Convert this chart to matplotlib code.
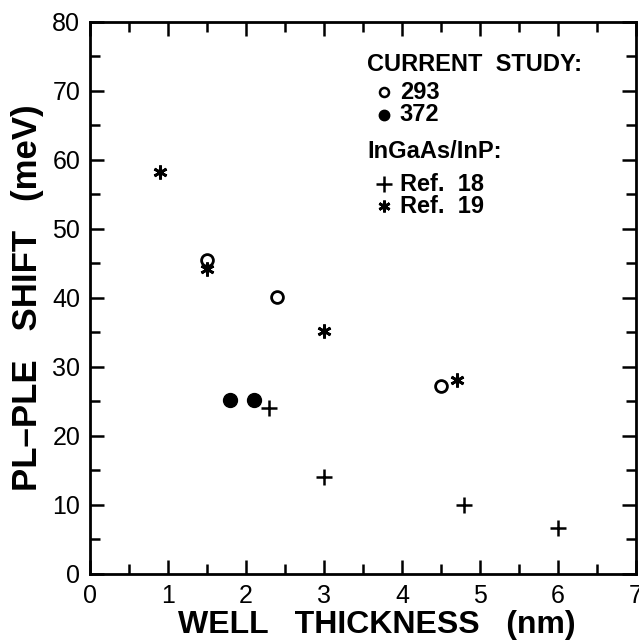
import matplotlib
matplotlib.use('Agg')
import matplotlib.pyplot as plt
from matplotlib.ticker import MultipleLocator

# current study, 293 (open circles)
x_293 = [1.5, 2.4, 4.5]
y_293 = [45.5, 40.2, 27.3]
# current study, 372 (filled circles)
x_372 = [1.8, 2.1]
y_372 = [25.2, 25.2]
# Ref. 18 (plus)
x_r18 = [2.3, 3.0, 4.8, 6.0]
y_r18 = [24.0, 14.0, 10.0, 6.7]
# Ref. 19 (asterisk)
x_r19 = [0.9, 1.5, 3.0, 4.7]
y_r19 = [58.3, 44.2, 35.2, 28.1]

plt.rcParams['font.family'] = ['Liberation Sans', 'DejaVu Sans']

fig = plt.figure(figsize=(6.39, 6.42), dpi=100)
ax = fig.add_axes([0.1408, 0.106, 0.8545, 0.86])

star = (6, 2, 0)
ax.plot(x_293, y_293, 'o', mfc='white', mec='black', mew=2, ms=8.5, ls='none')
ax.plot(x_372, y_372, 'o', mfc='black', mec='black', ms=10, ls='none')
ax.plot(x_r18, y_r18, '+', color='black', mew=1.8, ms=12, ls='none')
ax.plot(x_r19, y_r19, marker=star, color='black', mew=2.0, ms=10, ls='none')

ax.set_xlim(0, 7)
ax.set_ylim(0, 80)
ax.xaxis.set_major_locator(MultipleLocator(1))
ax.xaxis.set_minor_locator(MultipleLocator(0.5))
ax.yaxis.set_major_locator(MultipleLocator(10))
ax.yaxis.set_minor_locator(MultipleLocator(5))
ax.tick_params(which='both', direction='in', top=True, right=True, width=1.8)
ax.tick_params(which='major', length=10, labelsize=18, pad=7)
ax.tick_params(which='minor', length=7)
for s in ax.spines.values():
    s.set_linewidth(2)

ax.set_xlabel('WELL   THICKNESS   (nm)', fontsize=23, fontweight='bold', labelpad=2)
ax.xaxis.label.set_x(0.525)
ax.set_ylabel('PL\u2013PLE   SHIFT   (meV)', fontsize=25, fontweight='bold', labelpad=6)

# legend as text
lx_txt = 3.55
lx_mk = 3.77
lx_lab = 3.97
fs = 17
ax.text(lx_txt, 73.8, 'CURRENT  STUDY:', fontsize=fs, fontweight='bold', va='center')
ax.plot([lx_mk], [69.8], 'o', mfc='white', mec='black', mew=1.8, ms=6.5)
ax.text(lx_lab, 69.8, '293', fontsize=fs, fontweight='bold', va='center')
ax.plot([lx_mk], [66.5], 'o', mfc='black', mec='black', ms=7.5)
ax.text(lx_lab, 66.5, '372', fontsize=fs, fontweight='bold', va='center')
ax.text(lx_txt, 61.2, 'InGaAs/InP:', fontsize=fs, fontweight='bold', va='center')
ax.plot([lx_mk], [56.5], '+', color='black', mew=1.8, ms=11)
ax.text(lx_lab, 56.5, 'Ref.  18', fontsize=fs, fontweight='bold', va='center')
ax.plot([lx_mk], [53.3], marker=star, color='black', mew=2.0, ms=8.5)
ax.text(lx_lab, 53.3, 'Ref.  19', fontsize=fs, fontweight='bold', va='center')

fig.savefig('out.png', dpi=100)
